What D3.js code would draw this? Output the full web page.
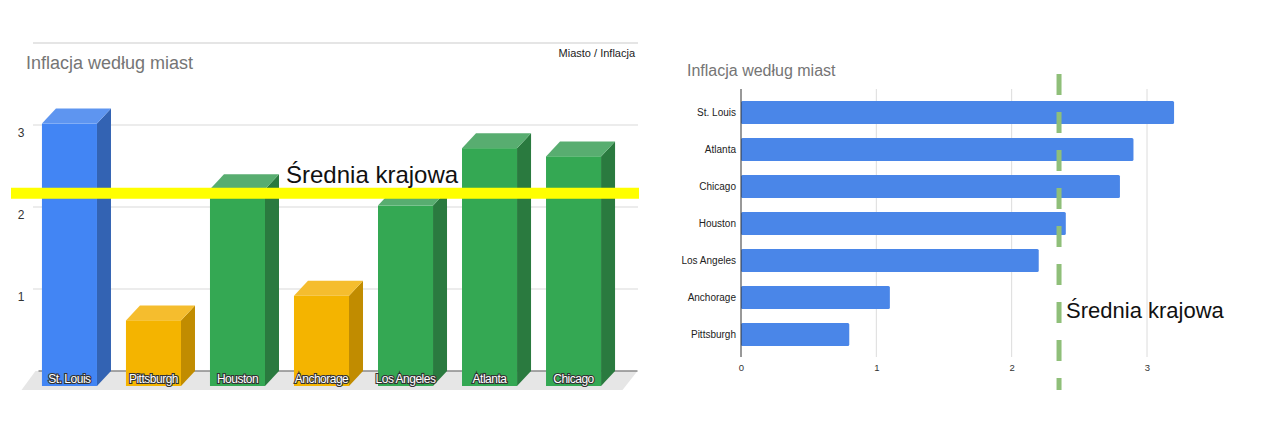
<!DOCTYPE html>
<html>
<head>
<meta charset="utf-8">
<script src="https://cdn.jsdelivr.net/npm/d3@7"></script>
<style type="text/css">
	body {
		margin: 0;
		background: #fff;
	}
	svg text {
		font-family: "Liberation Sans", Arial, sans-serif;
	}
</style>
</head>
<body>
<div id="chartContainer"></div>
<script type="text/javascript">

// values
var cities3d = ["St. Louis", "Pittsburgh", "Houston", "Anchorage", "Los Angeles", "Atlanta", "Chicago"];
var values3d = [3.2, 0.8, 2.4, 1.1, 2.2, 2.9, 2.8];
var groups3d = ["top", "low", "mid", "low", "mid", "mid", "mid"];
var yTicks3d = [1, 2, 3];

var citiesBar = ["St. Louis", "Atlanta", "Chicago", "Houston", "Los Angeles", "Anchorage", "Pittsburgh"];
var valuesBar = [3.2, 2.9, 2.8, 2.4, 2.2, 1.1, 0.8];
var xTicksBar = [0, 1, 2, 3];

var nationalAvg = 2.35;
var avgLabel = "Średnia krajowa";
var chartTitle = "Inflacja według miast";

var svg = d3.select("#chartContainer").append("svg")
	.attr("width", 1268)
	.attr("height", 427);

// ---------- left chart: fake 3D columns ----------
var DX = 14, DY = 15;

var left = svg.append("g");

var xb = d3.scaleBand()
	.domain(cities3d)
	.range([27.5, 615.5])
	.paddingInner(0.345)
	.paddingOuter(0.172);

// front plane scale
var yF = d3.scaleLinear().domain([0, 3.5]).range([386, 99]);

var faceColor = d3.scaleOrdinal().domain(["top", "low", "mid"]).range(["#4285f4", "#f4b400", "#34a853"]);
var sideColor = d3.scaleOrdinal().domain(["top", "low", "mid"]).range(["#3363b3", "#c18c00", "#2a7a3f"]);
var lidColor = d3.scaleOrdinal().domain(["top", "low", "mid"]).range(["#5e95f0", "#f5bd2e", "#58ad70"]);

// separator line and titles
left.append("line")
	.attr("x1", 33).attr("x2", 638)
	.attr("y1", 43).attr("y2", 43)
	.style("stroke", "#dcdcdc").style("stroke-width", 1.5);

left.append("text")
	.attr("x", 26).attr("y", 69)
	.style("font-size", "18px")
	.style("fill", "#757575")
	.text(chartTitle);

left.append("text")
	.attr("x", 635).attr("y", 57)
	.style("text-anchor", "end")
	.style("font-size", "11px")
	.style("fill", "#222")
	.text("Miasto / Inflacja");

// floor
var fx0 = xb.range()[0], fx1 = xb.range()[1];
left.append("polygon")
	.attr("points", [
		[fx0 + 8, yF(0) - DY], [fx1 + 22, yF(0) - DY],
		[fx1 + 7, yF(0) + 4], [fx0 - 6, yF(0) + 4]
	].join(" "))
	.style("fill", "#e6e6e6");

// gridlines on the back wall
left.selectAll("line.grid")
	.data(yTicks3d)
	.enter()
	.append("line")
	.attr("class", "grid")
	.attr("x1", 33).attr("x2", 638)
	.attr("y1", function (d) { return yF(d) - DY; })
	.attr("y2", function (d) { return yF(d) - DY; })
	.style("stroke", "#dadada").style("stroke-width", 1.2);

left.selectAll("text.tick")
	.data(yTicks3d)
	.enter()
	.append("text")
	.attr("class", "tick")
	.attr("x", 21)
	.attr("y", function (d) { return yF(d) - DY + 12; })
	.style("text-anchor", "middle")
	.style("font-size", "12px")
	.style("fill", "#333")
	.text(function (d) { return d; });

left.append("line")
	.attr("x1", fx0 + 11).attr("x2", fx1 + 22)
	.attr("y1", yF(0) - DY).attr("y2", yF(0) - DY)
	.style("stroke", "#8a8a8a").style("stroke-width", 1.5);

// columns
var cols = left.selectAll("g.col")
	.data(cities3d.map(function (c, i) { return { city: c, value: values3d[i], group: groups3d[i] }; }))
	.enter()
	.append("g")
	.attr("class", "col");

cols.append("polygon")
	.attr("points", function (d) {
		var x = xb(d.city) + xb.bandwidth(), y0 = yF(0), y1 = yF(d.value);
		return [[x, y1], [x + DX, y1 - DY], [x + DX, y0 - DY], [x, y0]].join(" ");
	})
	.style("fill", function (d) { return sideColor(d.group); });

cols.append("polygon")
	.attr("points", function (d) {
		var x = xb(d.city), w = xb.bandwidth(), y1 = yF(d.value);
		return [[x, y1], [x + DX, y1 - DY], [x + w + DX, y1 - DY], [x + w, y1]].join(" ");
	})
	.style("fill", function (d) { return lidColor(d.group); });

cols.append("rect")
	.attr("x", function (d) { return xb(d.city); })
	.attr("y", function (d) { return yF(d.value); })
	.attr("width", xb.bandwidth())
	.attr("height", function (d) { return yF(0) - yF(d.value); })
	.style("fill", function (d) { return faceColor(d.group); });

cols.append("text")
	.attr("x", function (d) { return xb(d.city) + xb.bandwidth() / 2; })
	.attr("y", yF(0) - 3)
	.style("text-anchor", "middle")
	.style("font-size", "12px")
	.style("letter-spacing", "-0.5px")
	.style("fill", "#fff")
	.style("stroke", "#333")
	.style("stroke-width", 2.2)
	.style("paint-order", "stroke")
	.text(function (d) { return d.city; });

// national average band
left.append("line")
	.attr("x1", 11).attr("x2", 639)
	.attr("y1", yF(nationalAvg)).attr("y2", yF(nationalAvg))
	.style("stroke", "#ffff00").style("stroke-width", 11);

left.append("text")
	.attr("x", 286).attr("y", 183)
	.style("font-size", "24px")
	.style("fill", "#111")
	.text(avgLabel);

// ---------- right chart: horizontal bars ----------
var right = svg.append("g");

var xR = d3.scaleLinear().domain([0, 3]).range([741, 1147]);
var yR = d3.scaleBand()
	.domain(citiesBar)
	.range([94, 353])
	.paddingInner(0.38)
	.paddingOuter(0.19);

right.append("text")
	.attr("x", 687).attr("y", 76)
	.style("font-size", "16px")
	.style("fill", "#757575")
	.text(chartTitle);

right.selectAll("line.grid")
	.data(xTicksBar.slice(1))
	.enter()
	.append("line")
	.attr("class", "grid")
	.attr("x1", function (d) { return xR(d); })
	.attr("x2", function (d) { return xR(d); })
	.attr("y1", 89).attr("y2", 357)
	.style("stroke", "#dcdcdc").style("stroke-width", 1);

var xAxis = right.append("g")
	.attr("transform", "translate(0,357)")
	.call(d3.axisBottom(xR).tickValues(xTicksBar).tickFormat(d3.format("d")).tickSize(0).tickPadding(7));
xAxis.select(".domain").remove();
xAxis.selectAll("text")
	.style("font-size", "9.5px")
	.style("fill", "#333")
	.style("font-family", "\"Liberation Sans\", Arial, sans-serif");

var yAxis = right.append("g")
	.attr("transform", "translate(741,0)")
	.call(d3.axisLeft(yR).tickSize(0).tickPadding(5));
yAxis.select(".domain").remove();
yAxis.selectAll("text")
	.style("font-size", "10px")
	.style("fill", "#222")
	.style("font-family", "\"Liberation Sans\", Arial, sans-serif");

right.selectAll("rect.bar")
	.data(citiesBar.map(function (c, i) { return { city: c, value: valuesBar[i] }; }))
	.enter()
	.append("rect")
	.attr("class", "bar")
	.attr("x", xR(0))
	.attr("y", function (d) { return yR(d.city); })
	.attr("width", function (d) { return xR(d.value) - xR(0); })
	.attr("height", yR.bandwidth())
	.attr("rx", 1.5)
	.style("fill", "#4a86e8");

right.append("line")
	.attr("x1", xR(0)).attr("x2", xR(0))
	.attr("y1", 89).attr("y2", 357)
	.style("stroke", "#333").style("stroke-width", 1);

right.append("line")
	.attr("x1", xR(nationalAvg)).attr("x2", xR(nationalAvg))
	.attr("y1", 74).attr("y2", 390)
	.style("stroke", "#8fbf79")
	.style("stroke-width", 5)
	.style("stroke-dasharray", "21,17");

right.append("text")
	.attr("x", xR(nationalAvg) + 7).attr("y", 318)
	.style("font-size", "22px")
	.style("fill", "#111")
	.text(avgLabel);

</script>
</body>
</html>
